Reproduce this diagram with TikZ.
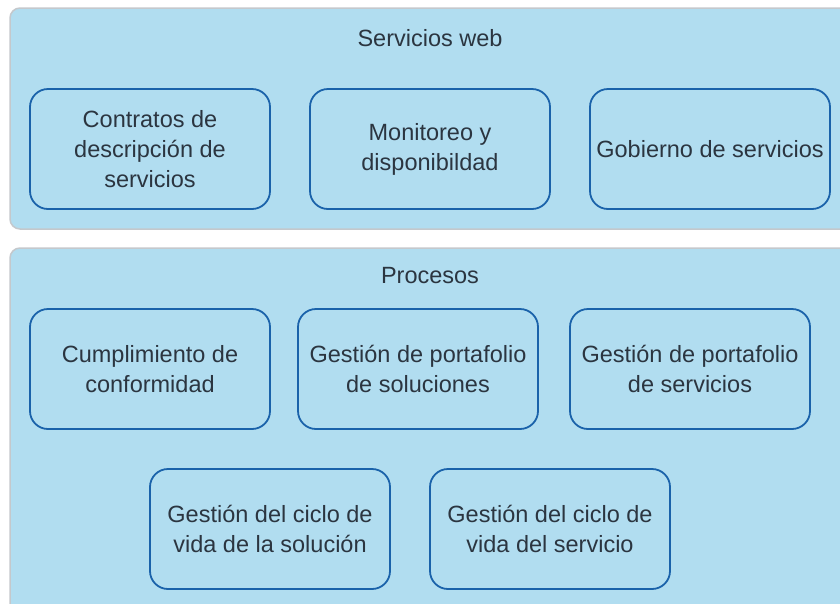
\documentclass[tikz,border=0pt]{standalone}
\usepackage{fontspec}
\setmainfont{Liberation Sans}
\definecolor{panelfill}{HTML}{B1DDF0}
\definecolor{panelline}{HTML}{C4C8CC}
\definecolor{boxline}{HTML}{1A62AA}
\definecolor{txt}{HTML}{2B3540}
\begin{document}
\begin{tikzpicture}[x=1pt,y=-1pt,
  panel/.style={draw=panelline,line width=1.5pt,fill=panelfill,rounded corners=10pt},
  ptitle/.style={text=txt,font=\fontsize{23.5}{30}\selectfont,inner sep=0pt},
  card/.style={draw=boxline,line width=1.8pt,rounded corners=18pt,minimum width=240pt,minimum height=120pt,
    align=center,text=txt,font=\fontsize{23.5}{30}\selectfont,inner sep=0pt}]
\useasboundingbox (0,0) rectangle (840,603);
\begin{scope}
\clip (0,0) rectangle (840,603);
\draw[panel] (10,8) rectangle (860,229);
\draw[panel] (10,248) rectangle (860,640);
\node[ptitle] (t1) at (430,38) {Servicios web};
\node[ptitle] (t2) at (430,276) {Procesos};
\node[card] (a1) at (150,149) {Contratos de\\descripción de\\servicios};
\node[card] (a2) at (430,149) {Monitoreo y\\disponibildad};
\node[card] (a3) at (710,149) {Gobierno de servicios};
\node[card] (b1) at (150,369) {Cumplimiento de\\conformidad};
\node[card] (b2) at (418,369) {Gestión de portafolio\\de soluciones};
\node[card] (b3) at (690,369) {Gestión de portafolio\\de servicios};
\node[card] (c1) at (270,529) {Gestión del ciclo de\\vida de la solución};
\node[card] (c2) at (550,529) {Gestión del ciclo de\\vida del servicio};
\end{scope}
\end{tikzpicture}
\end{document}
